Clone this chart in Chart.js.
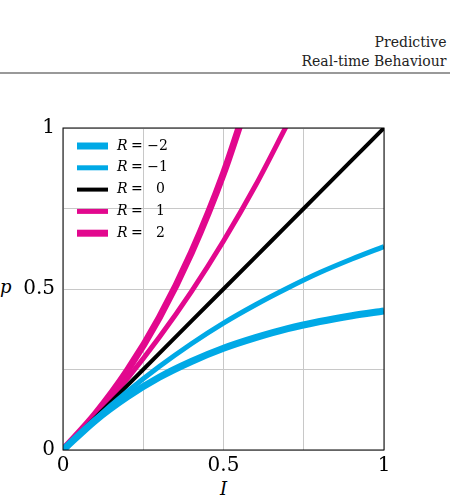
<!DOCTYPE html>
<html><head><meta charset="utf-8">
<script src="https://cdn.jsdelivr.net/npm/chart.js@4"></script>
<style>
body{margin:0;width:450px;height:500px;overflow:hidden;background:#fff;font-family:"DejaVu Serif","Liberation Serif",serif;position:relative}
.hd{position:absolute;right:-60px;white-space:nowrap;font-size:14px;color:#222;text-align:right}
#rule{position:absolute;left:0;top:72px;width:450px;height:2px;background:#999}
.ax{position:absolute;font-style:italic;font-size:18px}
canvas{position:absolute;left:0;top:0}
</style></head><body>
<div class="hd" style="top:34px">Predictive Systems</div>
<div class="hd" style="top:53px">Real-time Behaviour Systems</div>
<div id="rule"></div>
<div class="ax" style="left:0;top:276px">p</div>
<div class="ax" style="left:220px;top:478px">I</div>
<canvas id="c" width="450" height="500"></canvas>
<script>
// curve values (I on x, p on y)
const xs = [0, 0.1, 0.2, 0.3, 0.4, 0.5, 0.6, 0.7, 0.8, 0.9, 1];
const rMinus2 = [0, 0.091, 0.165, 0.226, 0.275, 0.316, 0.349, 0.377, 0.399, 0.417, 0.432];
const rMinus1 = [0, 0.095, 0.181, 0.259, 0.330, 0.394, 0.451, 0.503, 0.551, 0.593, 0.632];
const rZero = [0, 0.1, 0.2, 0.3, 0.4, 0.5, 0.6, 0.7, 0.8, 0.9, 1];
const rPlus1 = [0, 0.105, 0.221, 0.350, 0.492, 0.649, 0.822, 1.014];
const rPlus2 = [0, 0.111, 0.246, 0.411, 0.613, 0.859, 1.160];
const legendLabels = ['\u22122', '\u22121', '  0', '  1', '  2'];
const tickLabels = {0: '0', 0.5: '0.5', 1: '1'};

const cyan = '#00a9e6', pink = '#e2088e';
const pts = arr => arr.map((v, i) => ({x: xs[i], y: v}));
const sets = [
  {data: pts(rMinus2), borderColor: cyan, borderWidth: 7},
  {data: pts(rMinus1), borderColor: cyan, borderWidth: 5},
  {data: pts(rZero), borderColor: '#000', borderWidth: 4},
  {data: pts(rPlus1), borderColor: pink, borderWidth: 5},
  {data: pts(rPlus2), borderColor: pink, borderWidth: 7}
];
sets.forEach(s => { s.pointRadius = 0; s.tension = 0.4; s.cubicInterpolationMode = 'monotone'; s.fill = false; });

const legendPlugin = {
  id: 'leg',
  afterDraw(chart) {
    const ctx = chart.ctx, a = chart.chartArea;
    ctx.save();
    sets.forEach((s, i) => {
      const y = a.top + 18 + i * 21.8;
      ctx.strokeStyle = s.borderColor;
      ctx.lineWidth = s.borderWidth;
      ctx.beginPath(); ctx.moveTo(a.left + 14, y); ctx.lineTo(a.left + 45, y); ctx.stroke();
      ctx.fillStyle = '#000';
      ctx.textBaseline = 'middle';
      ctx.font = 'italic 14px "DejaVu Serif", serif';
      ctx.fillText('R', a.left + 54, y);
      ctx.font = '14px "DejaVu Serif", serif';
      ctx.fillText('= ' + legendLabels[i], a.left + 68, y);
    });
    ctx.strokeStyle = '#000'; ctx.lineWidth = 1;
    ctx.strokeRect(a.left, a.top, a.right - a.left, a.bottom - a.top);
    ctx.restore();
  }
};

new Chart(document.getElementById('c'), {
  type: 'line',
  data: {datasets: sets},
  options: {
    responsive: false, animation: false,
    layout: {padding: {left: 0, top: 128, right: 66, bottom: 0}},
    plugins: {legend: {display: false}, tooltip: {enabled: false}},
    scales: {
      x: {
        type: 'linear', min: 0, max: 1,
        afterFit: s => { s.height = 50; },
        grid: {color: '#c8c8c8', drawTicks: false},
        border: {display: false},
        ticks: {stepSize: 0.25, padding: 4, color: '#000', autoSkip: false, maxRotation: 0,
          font: {family: '"DejaVu Serif", serif', size: 20},
          callback: v => tickLabels[v] ?? ''}
      },
      y: {
        min: 0, max: 1,
        afterFit: s => { s.width = 63; },
        grid: {color: '#c8c8c8', drawTicks: false},
        border: {display: false},
        ticks: {stepSize: 0.25, padding: 8, color: '#000', autoSkip: false,
          font: {family: '"DejaVu Serif", serif', size: 20},
          callback: v => tickLabels[v] ?? ''}
      }
    }
  },
  plugins: [legendPlugin]
});
</script>
</body></html>
